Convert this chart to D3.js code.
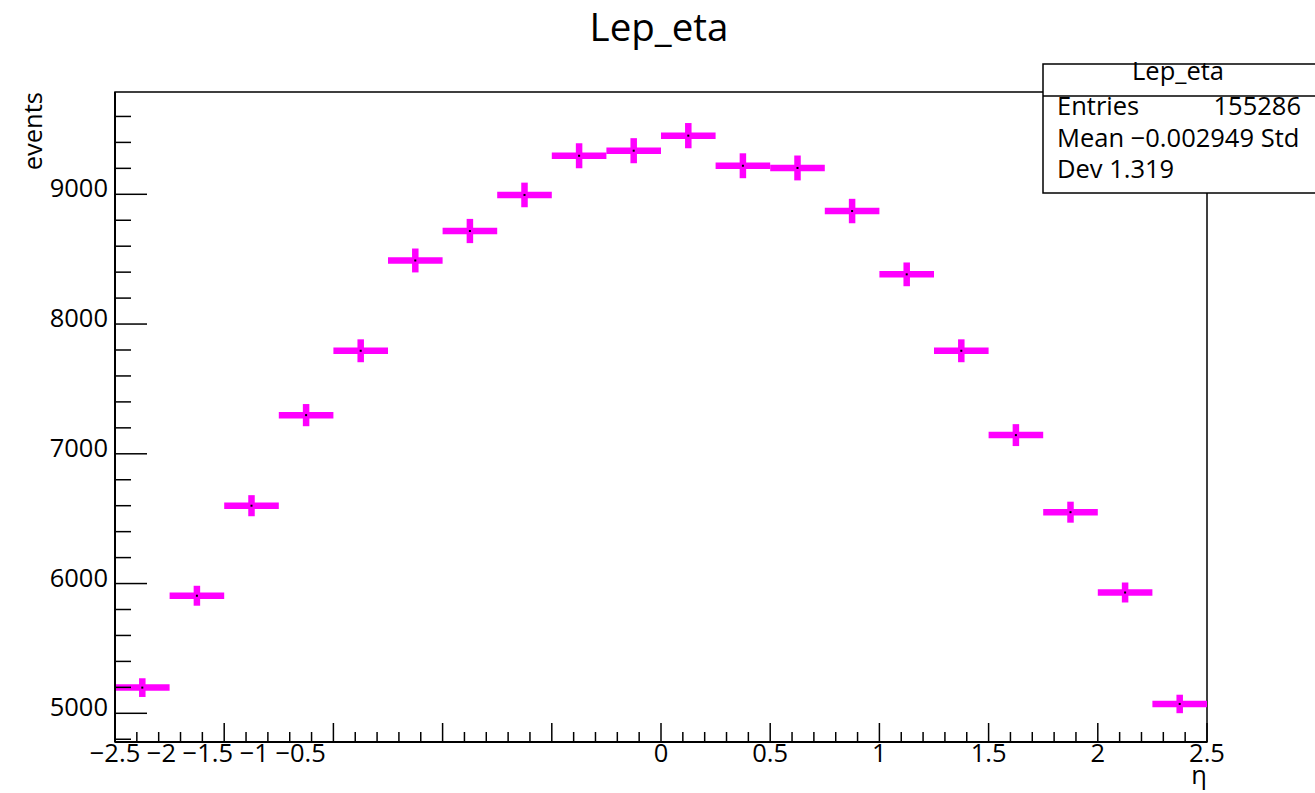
<!DOCTYPE html>
<html lang="en">
<head>
    <meta charset="UTF-8">
    <title>Lep_eta</title>
    <script src="https://cdn.jsdelivr.net/npm/d3@7"></script>
    <style>
        html, body { margin: 0; padding: 0; background: #fff; }
        svg { display: block; font-family: "Open Sans", "Noto Sans", sans-serif; }
    </style>
</head>
<body>
    <svg id="chart" width="1315" height="793"></svg>
    <script>
        // Данные гистограммы: центры бинов и число событий
        const binCenters = [-2.375, -2.125, -1.875, -1.625, -1.375, -1.125, -0.875, -0.625, -0.375, -0.125,
                            0.125, 0.375, 0.625, 0.875, 1.125, 1.375, 1.625, 1.875, 2.125, 2.375];
        const binCounts = [5198, 5906, 6600, 7298, 7794, 8490, 8717, 8995, 9297, 9336,
                           9452, 9220, 9203, 8871, 8383, 7794, 7144, 6550, 5931, 5072];
        const binWidth = 0.25;

        // Подписи осей
        const xMajorTicks = [-2.5, -2, -1.5, -1, -0.5, 0, 0.5, 1, 1.5, 2, 2.5];
        const xLeftLabels = ['−2.5', '−2', '−1.5', '−1', '−0.5'];   // слипшиеся подписи слева
        const xRightTicks = [0, 0.5, 1, 1.5, 2, 2.5];
        const xRightLabels = ['0', '0.5', '1', '1.5', '2', '2.5'];
        const yMajorTicks = [5000, 6000, 7000, 8000, 9000];
        const yTickLabels = ['5000', '6000', '7000', '8000', '9000'];

        // Статистика
        const statsTitle = 'Lep_eta';
        const statsLines = ['Mean −0.002949 Std', 'Dev 1.319'];
        const entriesLabel = 'Entries';
        const entriesValue = '155286';

        const fs = 25.5;   // размер шрифта подписей

        const svg = d3.select('#chart');

        const x = d3.scaleLinear().domain([-2.5, 2.5]).range([115, 1207]);
        const y = d3.scaleLinear().domain([4778.8, 9788.4]).range([742, 92]);

        const data = binCenters.map((c, i) => ({ c, v: binCounts[i], e: Math.sqrt(binCounts[i]) }));

        // Заголовок
        svg.append('text')
            .attr('x', 659).attr('y', 41)
            .attr('text-anchor', 'middle')
            .attr('font-size', 38.5)
            .text('Lep_eta');

        // Рамка графика
        svg.append('rect')
            .attr('x', x(-2.5)).attr('y', y.range()[1])
            .attr('width', x(2.5) - x(-2.5)).attr('height', y.range()[0] - y.range()[1])
            .attr('fill', 'none').attr('stroke', '#000').attr('stroke-width', 1.5);

        // Точки с ошибками
        const marks = svg.append('g');
        const magenta = '#ff00ff';

        marks.selectAll('.hbar')
            .data(data)
            .enter()
            .append('line')
            .attr('x1', d => x(d.c - binWidth / 2))
            .attr('x2', d => x(d.c + binWidth / 2))
            .attr('y1', d => y(d.v))
            .attr('y2', d => y(d.v))
            .attr('stroke', magenta)
            .attr('stroke-width', 6.5);

        marks.selectAll('.vbar')
            .data(data)
            .enter()
            .append('line')
            .attr('x1', d => x(d.c))
            .attr('x2', d => x(d.c))
            .attr('y1', d => y(d.v - d.e))
            .attr('y2', d => y(d.v + d.e))
            .attr('stroke', magenta)
            .attr('stroke-width', 6.5);

        marks.selectAll('.dot')
            .data(data)
            .enter()
            .append('rect')
            .attr('x', d => x(d.c) - 1)
            .attr('y', d => y(d.v) - 1)
            .attr('width', 2).attr('height', 2)
            .attr('fill', '#000');

        // Ось Y
        const axes = svg.append('g').attr('stroke', '#000');
        const x0 = x(-2.5);
        axes.append('line')
            .attr('x1', x0).attr('x2', x0)
            .attr('y1', y.range()[0]).attr('y2', y.range()[1])
            .attr('stroke-width', 2);

        const yMinor = d3.range(4800, 9800, 200).filter(v => v % 1000 !== 0);
        axes.selectAll('.ymin')
            .data(yMinor)
            .enter()
            .append('line')
            .attr('x1', x0).attr('x2', x0 + 16)
            .attr('y1', d => y(d)).attr('y2', d => y(d))
            .attr('stroke-width', 1.5);

        axes.selectAll('.ymaj')
            .data(yMajorTicks)
            .enter()
            .append('line')
            .attr('x1', x0).attr('x2', x0 + 32)
            .attr('y1', d => y(d)).attr('y2', d => y(d))
            .attr('stroke-width', 1.5);

        svg.selectAll('.ylab')
            .data(yMajorTicks)
            .enter()
            .append('text')
            .attr('x', 108)
            .attr('y', d => y(d) + 3)
            .attr('text-anchor', 'end')
            .attr('font-size', fs)
            .text((d, i) => yTickLabels[i]);

        svg.append('text')
            .attr('transform', 'translate(42,92) rotate(-90)')
            .attr('text-anchor', 'end')
            .attr('font-size', fs)
            .text('events');

        // Ось X
        const y0 = y.range()[0];
        axes.append('line')
            .attr('x1', x(-2.5)).attr('x2', x(2.5))
            .attr('y1', y0).attr('y2', y0)
            .attr('stroke-width', 2);

        const xMinor = d3.range(-24, 25).map(k => k / 10).filter(v => Math.abs(v * 2 - Math.round(v * 2)) > 1e-6);
        axes.selectAll('.xmin')
            .data(xMinor)
            .enter()
            .append('line')
            .attr('x1', d => x(d)).attr('x2', d => x(d))
            .attr('y1', y0).attr('y2', y0 - 10)
            .attr('stroke-width', 1.5);

        axes.selectAll('.xmaj')
            .data(xMajorTicks)
            .enter()
            .append('line')
            .attr('x1', d => x(d)).attr('x2', d => x(d))
            .attr('y1', y0).attr('y2', y0 - 19)
            .attr('stroke-width', 1.5);

        svg.selectAll('.xlab')
            .data(xRightTicks)
            .enter()
            .append('text')
            .attr('x', d => x(d))
            .attr('y', 762)
            .attr('text-anchor', 'middle')
            .attr('font-size', fs)
            .text((d, i) => xRightLabels[i]);

        // Левые подписи слиплись в одну строку
        const leftLab = svg.append('text')
            .attr('y', 762)
            .attr('font-size', fs)
            .text(xLeftLabels[0]);
        const firstW = leftLab.node().getComputedTextLength();
        leftLab.attr('x', x(-2.5) - firstW / 2).text(xLeftLabels.join(' '));

        svg.append('text')
            .attr('x', x(2.5)).attr('y', 784)
            .attr('text-anchor', 'end')
            .attr('font-size', fs)
            .text('η');

        // Блок статистики
        const box = svg.append('g');
        box.append('rect')
            .attr('x', 1043).attr('y', 64)
            .attr('width', 290).attr('height', 129)
            .attr('fill', '#fff').attr('stroke', '#000').attr('stroke-width', 1.5);
        box.append('line')
            .attr('x1', 1043).attr('x2', 1320)
            .attr('y1', 96).attr('y2', 96)
            .attr('stroke', '#000').attr('stroke-width', 1.5);
        box.append('text')
            .attr('x', 1178).attr('y', 80)
            .attr('text-anchor', 'middle')
            .attr('font-size', fs)
            .text(statsTitle);
        box.append('text')
            .attr('x', 1057).attr('y', 115)
            .attr('font-size', fs)
            .text(entriesLabel);
        box.append('text')
            .attr('x', 1301).attr('y', 115)
            .attr('text-anchor', 'end')
            .attr('font-size', fs)
            .text(entriesValue);
        box.selectAll('.stat')
            .data(statsLines)
            .enter()
            .append('text')
            .attr('x', 1057)
            .attr('y', (d, i) => 147 + i * 31)
            .attr('font-size', fs)
            .text(d => d);
    </script>
</body>
</html>
